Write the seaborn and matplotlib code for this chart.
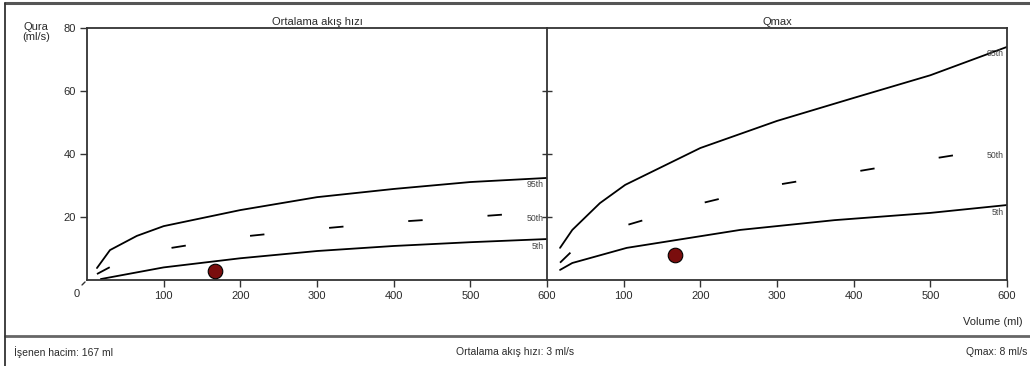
import numpy as np
import pandas as pd
import matplotlib
matplotlib.use("Agg")
import matplotlib.pyplot as plt
import seaborn as sns

# -------------------------------------
# Data
# -------------------------------------

# Ortalama akis hizi percentiles
avg_vol_95 = [13, 30, 65, 100, 200, 300, 400, 500, 600]
avg_p95 = [3.8, 9.5, 14.0, 17.1, 22.2, 26.3, 28.9, 31.1, 32.4]
avg_vol_50 = [13, 30, 65, 100, 200, 300, 400, 500, 590]
avg_p50 = [1.9, 4.1, 7.6, 9.8, 13.7, 16.2, 18.4, 20.0, 21.6]
avg_vol_5 = [18, 100, 200, 300, 400, 500, 600]
avg_p5 = [0.3, 4.0, 6.9, 9.2, 10.8, 12.0, 13.0]

# Qmax percentiles
qmax_vol_95 = [17, 33, 69, 102, 200, 300, 400, 500, 600]
qmax_p95 = [10.2, 15.9, 24.4, 30.2, 41.9, 50.5, 57.8, 65.0, 74.0]
qmax_vol_50 = [17, 34, 69, 105, 197, 300, 400, 500, 590]
qmax_p50 = [5.5, 9.5, 14.6, 17.5, 24.1, 30.2, 34.3, 38.4, 41.9]
qmax_vol_5 = [17, 33, 104, 252, 375, 500, 600]
qmax_p5 = [3.2, 5.4, 10.2, 15.9, 19.0, 21.3, 23.8]

# patient values
voided_volume = 167
avg_flow = 3
qmax_flow = 8

panel_titles = ["Ortalama akış hızı", "Qmax"]
pct_labels = ["95th", "50th", "5th"]

# -------------------------------------
# Style
# -------------------------------------

sns.set_style("ticks")
plt.rcParams['font.family'] = ['Liberation Sans', 'DejaVu Sans']

txt = "#2a2a2a"
spine_col = "#333333"

fig = plt.figure(figsize=(10.3, 3.66), dpi=100)

ax1 = fig.add_axes([87/1030, 1-280/366, 460/1030, 252/366])
ax2 = fig.add_axes([547/1030, 1-280/366, 460/1030, 252/366])

panels = [
    (ax1, [(avg_vol_95, avg_p95), (avg_vol_50, avg_p50), (avg_vol_5, avg_p5)], avg_flow),
    (ax2, [(qmax_vol_95, qmax_p95), (qmax_vol_50, qmax_p50), (qmax_vol_5, qmax_p5)], qmax_flow),
]

for i, (ax, curves, flow) in enumerate(panels):
    for j, (vx, vy) in enumerate(curves):
        d = pd.DataFrame({"vol": vx, "q": vy})
        sns.lineplot(data=d, x="vol", y="q", ax=ax, color="black", lw=1.3,
                     linestyle=(0, (8, 36)) if j == 1 else "-")
        ax.text(596, vy[-1] - 0.8, pct_labels[j], ha="right", va="top",
                fontsize=6.3, color="#444444")
    sns.scatterplot(x=[voided_volume], y=[flow], ax=ax, s=110,
                    color="#7a0d0d", edgecolor="black", linewidth=0.8,
                    zorder=5)

    ax.set_xlim(0, 600)
    ax.set_ylim(0, 80)
    ax.set_xlabel("")
    ax.set_ylabel("")
    ax.set_xticks([100, 200, 300, 400, 500, 600])
    ax.tick_params(axis="x", length=5, width=1, color=spine_col,
                   labelsize=8, labelcolor=txt, pad=3)
    for s in ax.spines.values():
        s.set_color(spine_col)
        s.set_linewidth(1.3)
    ax.set_title(panel_titles[i], fontsize=8, color=txt, pad=2)

# left panel: y axis labels
ax1.set_yticks([20, 40, 60, 80])
ax1.tick_params(axis="y", length=5, width=1, color=spine_col,
                labelsize=8, labelcolor=txt, pad=3)
ax1.spines["right"].set_visible(False)
ax1.text(-0.015, -0.035, "0", transform=ax1.transAxes, ha="right", va="top",
         fontsize=8, color=txt)
ax1.annotate("", xy=(0, 0), xycoords="axes fraction", xytext=(-5, -5),
             textcoords="offset points",
             arrowprops=dict(arrowstyle="-", color=spine_col, lw=1))

# right panel: unlabelled ticks on the shared middle axis
ax2.set_yticks([20, 40, 60])
ax2.tick_params(axis="y", direction="inout", length=7, width=1,
                color=spine_col, labelleft=False)

# -------------------------------------
# Frame and texts
# -------------------------------------

fig.text(36/1030, 1-22/366, "Qura\n(ml/s)", ha="center", va="top",
         fontsize=8, color=txt, linespacing=1.0)
fig.text(1023/1030, 1-322/366, "Volume (ml)", ha="right", va="center",
         fontsize=8, color=txt)

fig.add_artist(plt.Line2D([5/1030, 1], [1-3/366, 1-3/366], color="#555555", lw=2.2))
fig.add_artist(plt.Line2D([5/1030, 1], [1-336/366, 1-336/366], color="#666666", lw=2))
fig.add_artist(plt.Line2D([5/1030, 5/1030], [0, 1-3/366], color="#333333", lw=1.3))

fig.text(14/1030, 1-352/366, f"İşenen hacim: {voided_volume} ml", ha="left",
         va="center", fontsize=7.5, color=txt)
fig.text(515/1030, 1-352/366, f"Ortalama akış hızı: {avg_flow} ml/s",
         ha="center", va="center", fontsize=7.5, color=txt)
fig.text(1027/1030, 1-352/366, f"Qmax: {qmax_flow} ml/s", ha="right",
         va="center", fontsize=7.5, color=txt)

fig.savefig("out.png", dpi=100)
